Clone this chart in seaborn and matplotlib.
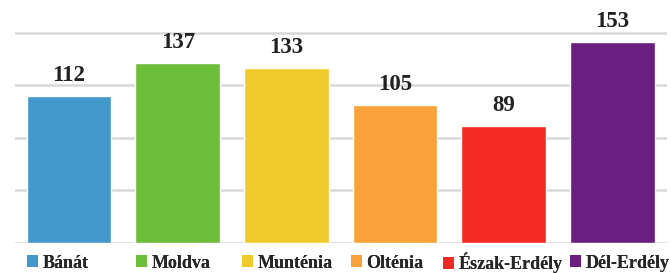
import matplotlib
matplotlib.use("Agg")
import matplotlib.pyplot as plt
from matplotlib.patches import Patch
import seaborn as sns
import pandas as pd

# Data
regions = ["Bánát", "Moldva", "Munténia", "Olténia", "Észak-Erdély", "Dél-Erdély"]
values = [112, 137, 133, 105, 89, 153]
colors = ["#4499CC", "#6CBE3A", "#F1CB2D", "#F9A23A", "#F42B24", "#6A1F80"]

df = pd.DataFrame({"region": regions, "value": values})

sns.set_style("white")
plt.rcParams["font.family"] = ["Liberation Serif", "DejaVu Serif"]

fig = plt.figure(figsize=(6.7, 2.73), dpi=100)
ax = fig.add_axes([0.022, 0.11, 0.973, 0.828])

sns.barplot(data=df, x="region", y="value", hue="region", palette=colors,
            width=0.78, saturation=1, legend=False, ax=ax, zorder=3)

for c in ax.containers:
    ax.bar_label(c, padding=7, fontsize=16.5, fontweight="bold", color="#222222")

ax.set_ylim(0, 172)
ax.set_yticks([0, 40, 80, 120, 160])
ax.yaxis.grid(True, color="#D9D9D9", linewidth=1.8, zorder=0)
ax.set_xlim(-0.5, 5.5)
ax.set_xticks([])
ax.set_yticklabels([])
ax.tick_params(left=False, bottom=False)
ax.set_xlabel("")
ax.set_ylabel("")
sns.despine(ax=ax, left=True, bottom=True, top=True, right=True)

# legend entries spread like the original (one small legend per entry)
legend_x = [27, 136, 242, 351, 443, 570]
for name, col, px in zip(regions, colors, legend_x):
    leg = fig.legend([Patch(facecolor=col, edgecolor="none")], [name],
                     loc="center left", bbox_to_anchor=(px / 670, 1 - 263 / 273),
                     frameon=False, prop={"weight": "bold", "size": 13},
                     handlelength=0.6, handleheight=0.6, handletextpad=0.25,
                     borderpad=0, borderaxespad=0)
    fig.add_artist(leg)

fig.savefig("out.png", dpi=100)
